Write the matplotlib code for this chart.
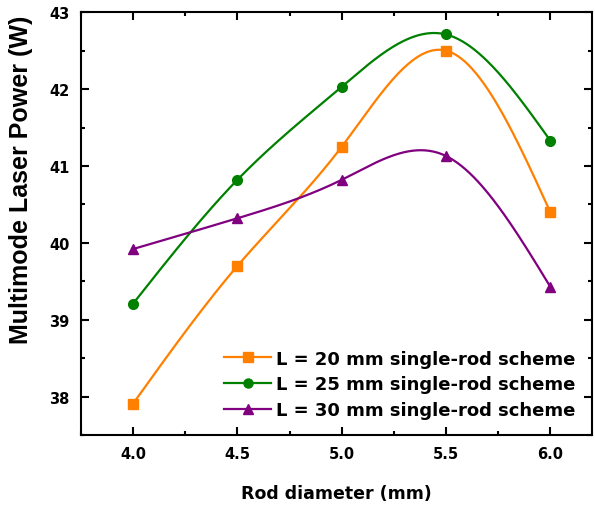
import numpy as np
import matplotlib
matplotlib.use("Agg")
import matplotlib.pyplot as plt
from matplotlib.ticker import MultipleLocator, FormatStrFormatter

plt.rcParams['font.family'] = ['DejaVu Sans']
plt.rcParams['font.weight'] = 'bold'

rod_diameter = [4.0, 4.5, 5.0, 5.5, 6.0]
power_l20 = [37.91, 39.70, 41.25, 42.50, 40.40]
power_l25 = [39.21, 40.82, 42.03, 42.71, 41.33]
power_l30 = [39.92, 40.32, 40.82, 41.13, 39.43]


def natural_spline(x, y, n=300):
    """Natural cubic spline through the points, evaluated on a dense grid."""
    x = np.asarray(x, float)
    y = np.asarray(y, float)
    m = len(x)
    h = np.diff(x)
    A = np.zeros((m, m))
    b = np.zeros(m)
    A[0, 0] = A[-1, -1] = 1.0
    for i in range(1, m - 1):
        A[i, i - 1] = h[i - 1]
        A[i, i] = 2 * (h[i - 1] + h[i])
        A[i, i + 1] = h[i]
        b[i] = 6 * ((y[i + 1] - y[i]) / h[i] - (y[i] - y[i - 1]) / h[i - 1])
    M = np.linalg.solve(A, b)
    xs = np.linspace(x[0], x[-1], n)
    idx = np.clip(np.searchsorted(x, xs) - 1, 0, m - 2)
    x0, x1 = x[idx], x[idx + 1]
    hh = x1 - x0
    t0, t1 = x1 - xs, xs - x0
    ys = (M[idx] * t0**3 + M[idx + 1] * t1**3) / (6 * hh) \
        + (y[idx] / hh - M[idx] * hh / 6) * t0 \
        + (y[idx + 1] / hh - M[idx + 1] * hh / 6) * t1
    return xs, ys


fig = plt.figure(figsize=(5.95, 5.06), dpi=100)
ax = fig.add_axes([0.136, 0.138, 0.859, 0.836])

series = [
    (power_l20, '#FF8000', 's', 'L = 20 mm single-rod scheme'),
    (power_l25, '#008000', 'o', 'L = 25 mm single-rod scheme'),
    (power_l30, '#800080', '^', 'L = 30 mm single-rod scheme'),
]
for vals, col, mk, lab in series:
    xs, ys = natural_spline(rod_diameter, vals)
    ax.plot(xs, ys, color=col, lw=1.6)
    ax.plot(rod_diameter, vals, linestyle='none', marker=mk, color=col, ms=7)
    ax.plot([], [], color=col, lw=1.6, marker=mk, ms=6.5, label=lab)

ax.set_xlim(3.75, 6.2)
ax.set_ylim(37.5, 43)
ax.xaxis.set_major_locator(MultipleLocator(0.5))
ax.xaxis.set_minor_locator(MultipleLocator(0.25))
ax.yaxis.set_major_locator(MultipleLocator(1))
ax.yaxis.set_minor_locator(MultipleLocator(0.5))
ax.xaxis.set_major_formatter(FormatStrFormatter('%.1f'))
ax.tick_params(which='both', direction='in', top=True, right=True, width=1.5)
ax.tick_params(which='major', length=6, labelsize=10.5, pad=8)
ax.tick_params(which='minor', length=3)
for sp in ax.spines.values():
    sp.set_linewidth(1.5)

ax.set_xlabel('Rod diameter (mm)', fontsize=12.5, fontweight='bold', labelpad=16)
ax.set_ylabel('Multimode Laser Power (W)', fontsize=18, fontweight='bold',
              family='Liberation Sans')
ax.yaxis.set_label_coords(-0.094, 0.605)

ax.legend(loc='lower right', handlelength=2.6, handletextpad=0.3,
          labelspacing=0.42, borderaxespad=0.5, frameon=False,
          prop={'weight': 'bold', 'size': 13})

fig.savefig('out.png', dpi=100)
